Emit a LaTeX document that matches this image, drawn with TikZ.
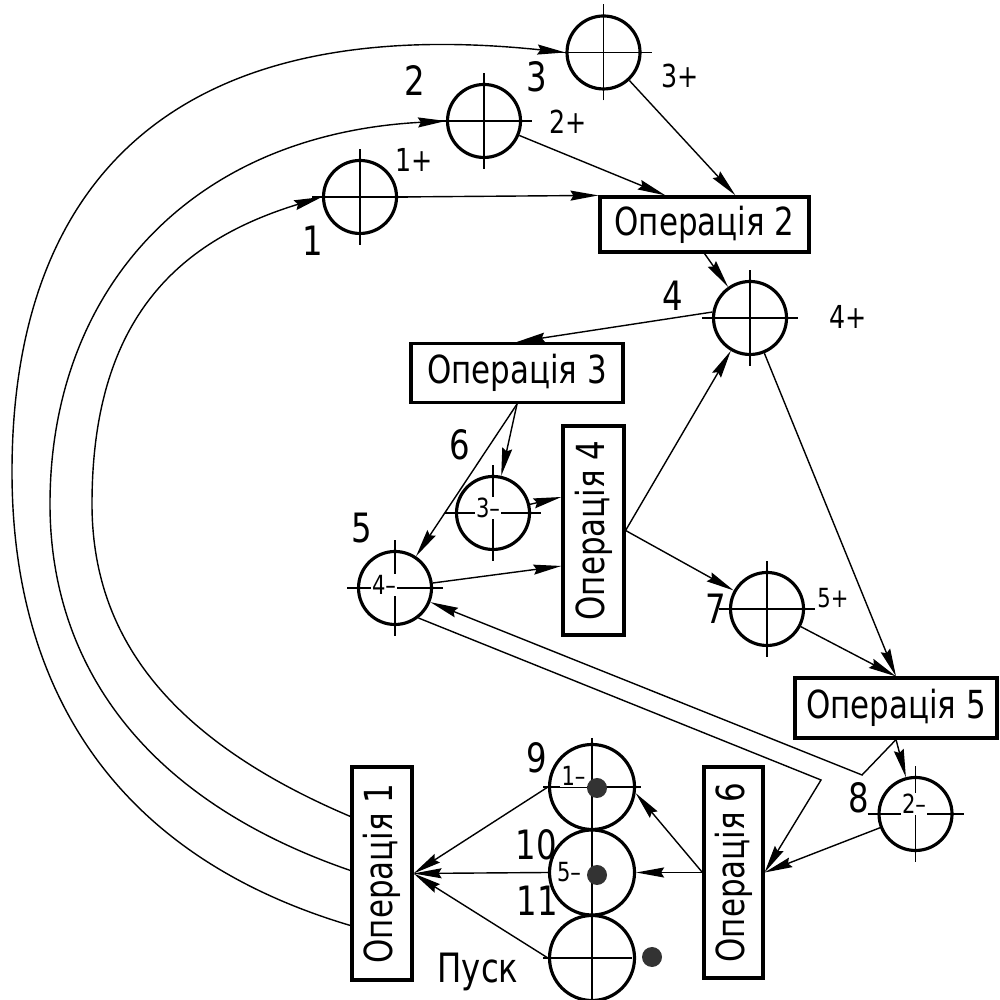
\documentclass[tikz,border=0pt]{standalone}
\usepackage{fontspec}
\setmainfont[FakeStretch=0.8]{DejaVu Sans}
\usepackage{graphicx}
\usepackage{tikz}
\usetikzlibrary{arrows.meta, calc}

\tikzset{
  posn/.style={circle, draw, line width=0.9pt, minimum size=0.73cm, inner sep=0pt},
  posnbig/.style={posn, minimum size=0.85cm},
  opbox/.style={draw, line width=0.9pt, inner sep=0pt, font=\fontsize{11}{13}\selectfont},
  link/.style={line width=0.4pt, -{Stealth[length=2.8mm, width=1mm, inset=0.3mm]}},
  axisline/.style={line width=0.3pt},
  lbl/.style={font=\fontsize{11.5}{13}\selectfont, inner sep=0pt},
  pluslbl/.style={font=\fontsize{9}{10}\selectfont, inner sep=0pt},
  inlbl/.style={font=\fontsize{7.5}{8}\selectfont, inner sep=0.4pt, fill=white},
  blackdot/.style={circle, fill=black!80, minimum size=0.2cm, inner sep=0pt},
}
\newcommand{\centrelines}[2]{%
  \draw[axisline] ($(#1)+(-#2,0)$) -- ($(#1)+(#2,0)$);
  \draw[axisline] ($(#1)+(0,-#2)$) -- ($(#1)+(0,#2)$);}

\begin{document}
\begin{tikzpicture}
  \useasboundingbox (0,0) rectangle (10,10);
  % positions
  \node[posn] (c1) at (3.60,8.03) {};
  \node[posn] (c2) at (4.84,8.79) {};
  \node[posn] (c3) at (6.035,9.475) {};
  \node[posn] (c4) at (7.50,6.82) {};
  \node[posn] (c5) at (3.95,4.12) {};
  \node[posn] (c6) at (4.93,4.87) {};
  \node[posn] (c7) at (7.67,3.91) {};
  \node[posn] (c8) at (9.155,1.86) {};
  \node[posnbig] (c9) at (5.92,2.13) {};
  \node[posnbig] (c10) at (5.92,1.275) {};
  \node[posnbig] (c11) at (5.92,0.42) {};
  % operations
  \node[opbox, minimum width=2.09cm, minimum height=0.55cm] (op2) at (7.045,7.755) {Операція 2};
  \node[opbox, minimum width=2.12cm, minimum height=0.59cm] (op3) at (5.17,6.27) {Операція 3};
  \node[opbox, minimum width=0.61cm, minimum height=2.09cm] (op4) at (5.935,4.695) {\rotatebox{90}{Операція 4}};
  \node[opbox, minimum width=2.02cm, minimum height=0.60cm] (op5) at (8.96,2.92) {Операція 5};
  \node[opbox, minimum width=0.59cm, minimum height=2.11cm] (op6) at (7.335,1.275) {\rotatebox{90}{Операція 6}};
  \node[opbox, minimum width=0.60cm, minimum height=2.13cm] (op1) at (3.82,1.265) {\rotatebox{90}{Операція 1}};
  % centre lines
  \foreach \c in {c1,c2,c3,c4,c5,c6,c7,c8} {\centrelines{\c}{0.48}}
  \draw[axisline] ($(c9)+(0,0.49)$) -- ($(c11)+(0,-0.42)$);
  \draw[axisline] ($(c9)+(-0.49,0)$) -- ($(c9)+(0.49,0)$);
  \draw[axisline] ($(c11)+(-0.49,0)$) -- ($(c11)+(0.40,0)$);
  \node[blackdot] (d9) at (5.97,2.12) {};
  \node[blackdot] (d10) at (5.97,1.25) {};
  \node[blackdot] (d11) at (6.52,0.43) {};
  % labels
  \node[lbl] (n1) at (3.13,7.59) {1};
  \node[pluslbl] (n1p) at (4.14,8.40) {1+};
  \node[lbl] (n2) at (4.15,9.19) {2};
  \node[pluslbl] (n2p) at (5.68,8.78) {2+};
  \node[lbl] (n3) at (5.37,9.23) {3};
  \node[pluslbl] (n3p) at (6.80,9.24) {3+};
  \node[lbl] (n4) at (6.73,7.04) {4};
  \node[pluslbl] (n4p) at (8.48,6.83) {4+};
  \node[lbl] (n5) at (3.62,4.72) {5};
  \node[lbl] (n6) at (4.60,5.55) {6};
  \node[lbl] (n7) at (7.16,3.91) {7};
  \node[pluslbl, font=\fontsize{7.5}{8}\selectfont] (n7p) at (8.33,4.02) {5+};
  \node[lbl] (n8) at (8.59,2.02) {8};
  \node[lbl] (n9) at (5.37,2.42) {9};
  \node[lbl] (n10) at (5.36,1.55) {10};
  \node[lbl] (n11) at (5.37,0.99) {11};
  \node[lbl] (start) at (4.78,0.28) {Пуск};
  \node[inlbl] (i9) at (5.735,2.24) {1\textendash};
  \node[inlbl] (i10) at (5.69,1.28) {5\textendash};
  \node[inlbl] (i6) at (4.88,4.92) {3\textendash};
  \node[inlbl] (i5) at (3.84,4.15) {4\textendash};
  \node[inlbl] (i8) at (9.14,1.96) {2\textendash};
  % arcs from operation 1
  \draw[link] ($(op1.west)+(0,0.57)$) .. controls +(157:2.0) and +(-90:1.3) .. (0.92,4.96)
    .. controls +(90:1.9) and +(197:1.45) .. (c1.west);
  \draw[link] ($(op1.west)+(0,0.03)$) .. controls +(161:2.3) and +(-90:1.5) .. (0.50,4.96)
    .. controls +(90:2.1) and +(183:2.6) .. (c2.west);
  \draw[link] ($(op1.west)+(0,-0.52)$) .. controls +(163.5:2.7) and +(-90:1.9) .. (0.12,5.28)
    .. controls +(90:2.7) and +(174:4.15) .. (c3.west);
  % connectors
  \draw[link] (c1.east) -- (op2.north west);
  \draw[link] (c2) -- ($(op2.north west)+(0.67,0)$);
  \draw[link] (c3) -- ($(op2.north west)+(1.37,0)$);
  \draw[link] (op2.south) -- (c4);
  \draw[link] (c4.171) -- (op3.north);
  \draw[link] (op3.south) -- (c6);
  \draw[link] (op3.south) -- (c5);
  \draw[link] (c6) -- ($(op4.west)+(0,0.335)$);
  \draw[link] (c5) -- ($(op4.west)+(0,-0.355)$);
  \draw[link] (op4.east) -- (c4);
  \draw[link] (op4.east) -- (c7);
  \draw[link] (c4) -- (op5.north);
  \draw[link] (c7) -- (op5.north);
  \draw[link] (op5.south) -- (c8);
  \coordinate (ka) at (8.62,2.25);
  \coordinate (kb) at (8.21,2.20);
  \draw[link] (op5.south) -- (ka) -- (c5);
  \draw[link] (c5.-52) -- (kb) -- (op6.east);
  \draw[link] (c8) -- (op6.east);
  \draw[link] (op6.west) -- (c9.-8);
  \draw[link] (op6.west) -- (c10.east);
  \draw[link] (c10.west) -- (op1.east);
  \draw[link] (c9.west) -- (op1.east);
  \draw[link] (c11.west) -- (op1.east);
\end{tikzpicture}
\end{document}
